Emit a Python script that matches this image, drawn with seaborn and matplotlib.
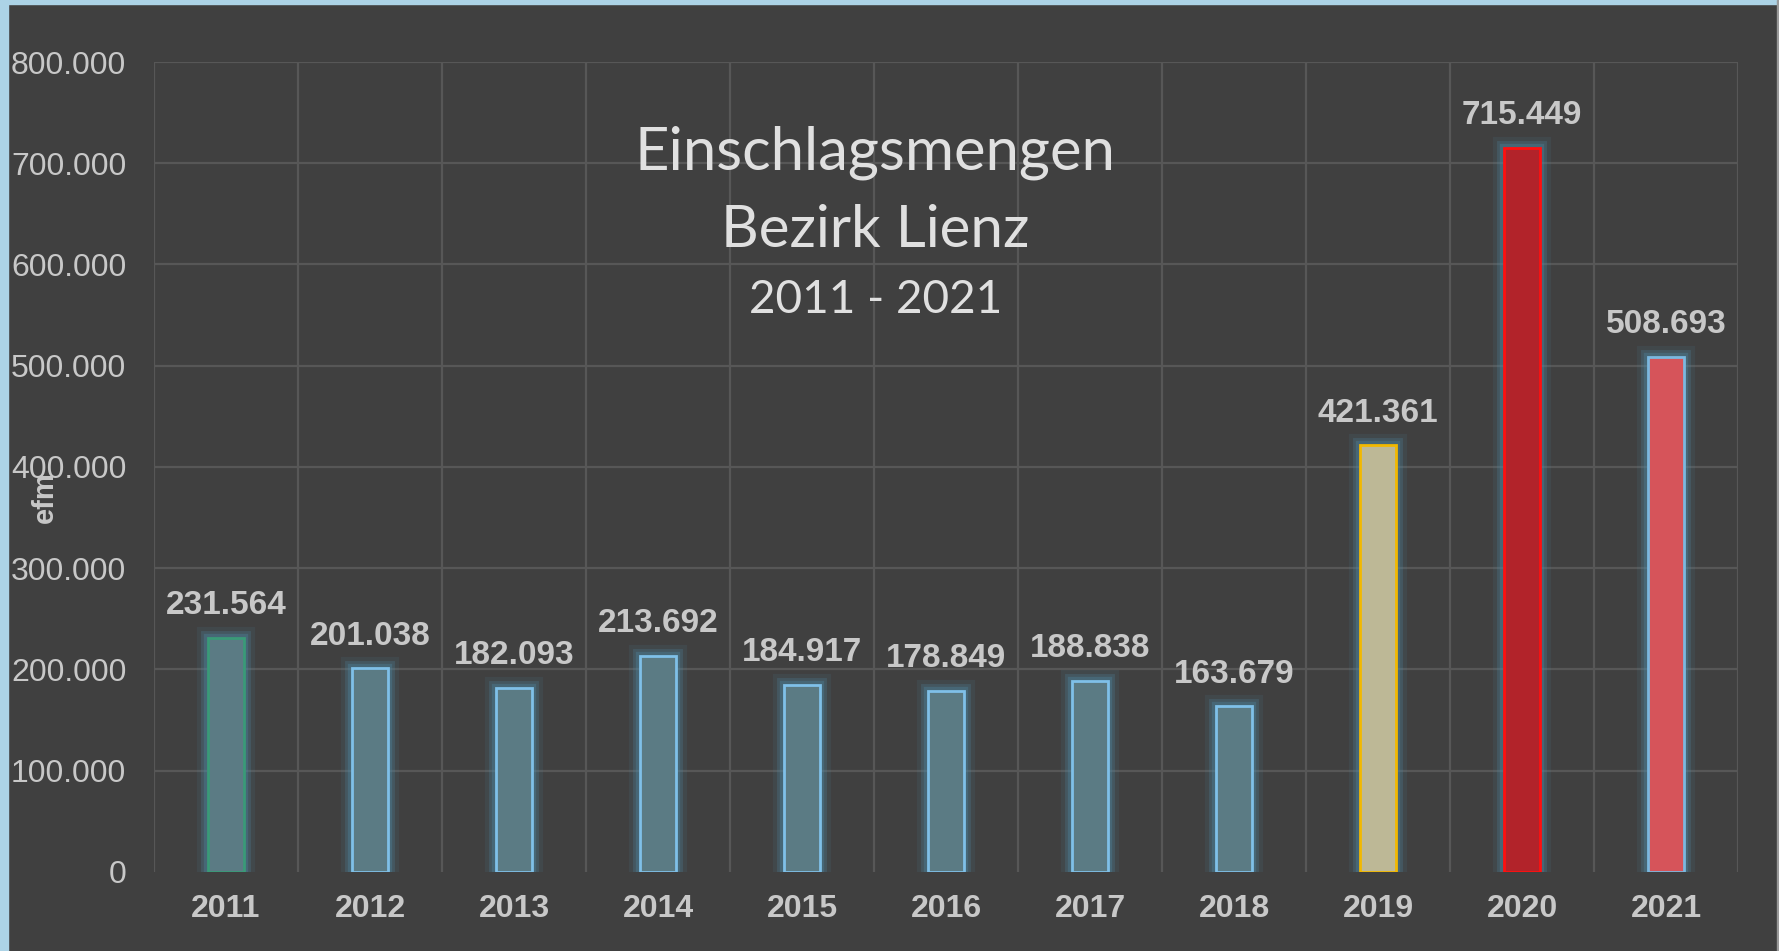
import matplotlib as mpl
mpl.use("Agg")
import matplotlib.pyplot as plt
import matplotlib.patheffects as pe
from matplotlib.patches import Rectangle
import pandas as pd
import seaborn as sns

years = ["2011", "2012", "2013", "2014", "2015", "2016", "2017", "2018", "2019", "2020", "2021"]
efm = [231564, 201038, 182093, 213692, 184917, 178849, 188838, 163679, 421361, 715449, 508693]
value_labels = ["231.564", "201.038", "182.093", "213.692", "184.917", "178.849",
                "188.838", "163.679", "421.361", "715.449", "508.693"]
ytick_values = [0, 100000, 200000, 300000, 400000, 500000, 600000, 700000, 800000]
ytick_labels = ["0", "100.000", "200.000", "300.000", "400.000", "500.000",
                "600.000", "700.000", "800.000"]

fill_colors = ["#5b7b84"] * 8 + ["#bdb896", "#b2232a", "#d6545a"]
edge_colors = ["#3a9a78"] + ["#7fc0e8"] * 7 + ["#f2b800", "#ff1010", "#7ab8e0"]

bg = "#404040"
txt = "#c8c8c8"

sns.set_theme(style="dark")
plt.rcParams["font.family"] = ["Liberation Sans", "DejaVu Sans"]

df = pd.DataFrame({"Jahr": years, "efm": efm})

fig = plt.figure(figsize=(17.79, 9.51), dpi=100, facecolor=bg)
ax = fig.add_axes([0.0866, 0.0831, 0.977 - 0.0866, 0.9348 - 0.0831])
ax.set_facecolor(bg)

sns.barplot(data=df, x="Jahr", y="efm", hue="Jahr", palette=fill_colors,
            saturation=1, legend=False, width=0.25, ax=ax, zorder=3)

for bar, ec in zip(ax.patches, edge_colors):
    bar.set_edgecolor(ec)
    bar.set_linewidth(2)
    bar.set_path_effects([
        pe.Stroke(linewidth=16, foreground="#4f86a0", alpha=0.12),
        pe.Stroke(linewidth=10, foreground="#4f86a0", alpha=0.25),
        pe.Stroke(linewidth=6, foreground="#4f86a0", alpha=0.35),
        pe.Normal(),
    ])

for bar, lab in zip(ax.patches, value_labels):
    ax.annotate(lab, (bar.get_x() + bar.get_width() / 2, bar.get_height()),
                xytext=(0, 17), textcoords="offset points", ha="center",
                va="baseline", fontsize=24, fontweight="bold", color=txt, zorder=4)

ax.set_ylim(0, 800000)
ax.set_xlim(-0.5, len(years) - 0.5)
ax.set_yticks(ytick_values)
ax.set_yticklabels(ytick_labels)
ax.set_xticks(range(len(years)))
ax.set_xticklabels(years)
ax.tick_params(axis="y", labelsize=23, labelcolor=txt, pad=20, length=0)
ax.tick_params(axis="x", labelsize=23, labelcolor=txt, pad=16, length=0)
for t in ax.get_xticklabels():
    t.set_fontweight("bold")

# Excel style grid: horizontal at ticks, vertical between categories
ax.grid(False)
for y in ytick_values[1:]:
    ax.axhline(y, color="#575757", lw=1.6, zorder=1)
for x in range(len(years) + 1):
    ax.axvline(x - 0.5, color="#575757", lw=1.6, zorder=1)
for s in ax.spines.values():
    s.set_visible(False)

ax.set_xlabel("")
ax.set_ylabel("efm", fontsize=21, fontweight="bold", color=txt)
ax.yaxis.set_label_coords(-0.060, 0.463)

title_font = ["Lato", "DejaVu Sans"]
fig.text(0.492, 1 - 170 / 951, "Einschlagsmengen", ha="center", va="baseline",
         fontsize=43, color="#e0e0e0", family=title_font)
fig.text(0.492, 1 - 247 / 951, "Bezirk Lienz", ha="center", va="baseline",
         fontsize=42, color="#e0e0e0", family=title_font)
fig.text(0.492, 1 - 313 / 951, "2011 - 2021", ha="center", va="baseline",
         fontsize=33, color="#e0e0e0", family=title_font)

# window frame
fig.patches.append(Rectangle((0, 0), 8 / 1779, 1, transform=fig.transFigure,
                             color="#acd3e6", zorder=10))
fig.patches.append(Rectangle((0, 1 - 4 / 951), 1, 4 / 951, transform=fig.transFigure,
                             color="#acd3e6", zorder=10))
fig.patches.append(Rectangle((1 - 2 / 1779, 0), 2 / 1779, 1, transform=fig.transFigure,
                             color="#9a9a9a", zorder=10))

fig.savefig("out.png", dpi=100, facecolor=bg)
plt.close(fig)
